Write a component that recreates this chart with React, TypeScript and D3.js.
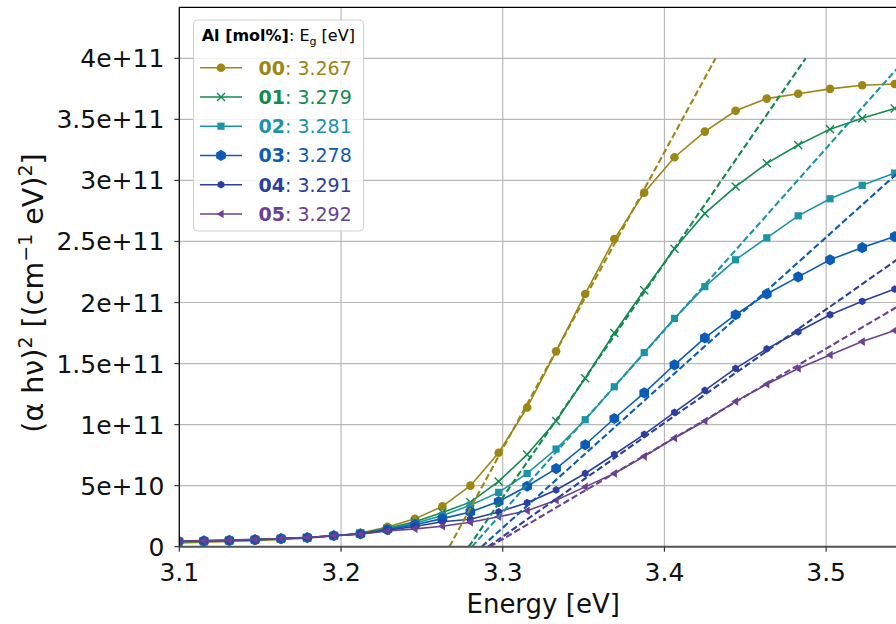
import React from "react";
import * as d3 from "d3";

// Photon energy of each sample point [eV]
const energy = [
  3.0996, 3.1152, 3.1309, 3.1468, 3.1629, 3.1791, 3.1955, 3.212, 3.2287, 3.2457,
  3.2627, 3.28, 3.2975, 3.3151, 3.333, 3.351, 3.369, 3.3875, 3.4062, 3.425,
  3.444, 3.4633, 3.4827, 3.5024, 3.5223, 3.5424,
];

// (alpha h nu)^2 in units of 1e10 (cm^-1 eV)^2
const UNIT = 1e10;
const s00 = [0.3, 0.36, 0.42, 0.5, 0.6, 0.7, 0.88, 1.12, 1.62, 2.28, 3.3, 5.0, 7.7, 11.4, 16.0, 20.7, 25.2, 29.0, 31.9, 34.0, 35.7, 36.7, 37.1, 37.5, 37.8, 37.9];
const s01 = [0.4, 0.45, 0.5, 0.57, 0.65, 0.74, 0.9, 1.08, 1.5, 2.05, 2.8, 3.65, 5.35, 7.55, 10.3, 13.8, 17.5, 21.0, 24.4, 27.3, 29.5, 31.4, 32.9, 34.2, 35.1, 35.9];
const s02 = [0.42, 0.46, 0.51, 0.57, 0.65, 0.74, 0.9, 1.06, 1.45, 1.92, 2.55, 3.4, 4.45, 6.0, 8.0, 10.4, 13.1, 15.9, 18.7, 21.3, 23.5, 25.3, 27.1, 28.5, 29.6, 30.6];
const s03 = [0.45, 0.48, 0.52, 0.58, 0.66, 0.75, 0.9, 1.05, 1.4, 1.8, 2.3, 2.85, 3.7, 4.95, 6.4, 8.35, 10.5, 12.6, 14.9, 17.1, 19.0, 20.7, 22.1, 23.5, 24.5, 25.4];
const s04 = [0.45, 0.49, 0.53, 0.59, 0.66, 0.75, 0.9, 1.04, 1.35, 1.65, 2.05, 2.25, 2.85, 3.6, 4.65, 6.0, 7.55, 9.2, 11.0, 12.8, 14.6, 16.2, 17.6, 19.0, 20.1, 21.1];
const s05 = [0.46, 0.5, 0.54, 0.6, 0.67, 0.76, 0.9, 1.02, 1.28, 1.46, 1.68, 2.0, 2.45, 2.95, 3.8, 4.9, 6.0, 7.4, 8.9, 10.3, 11.9, 13.3, 14.6, 15.7, 16.8, 17.7];

const seriesIds = ["00", "01", "02", "03", "04", "05"];
const bandGaps = ["3.267", "3.279", "3.281", "3.278", "3.291", "3.292"];
// Tauc tangent lines: x-intercept [eV] and slope [1e10 per eV]
const fitIntercept = [3.267, 3.279, 3.281, 3.287, 3.291, 3.292];
const fitSlope = [243, 192, 149, 119, 93, 78];
const fitTop = 40; // tangents drawn up to 4e11

const xTicks = [3.1, 3.2, 3.3, 3.4, 3.5];
const xTickLabels = ["3.1", "3.2", "3.3", "3.4", "3.5"];
const yTicks = [0, 5e10, 1e11, 1.5e11, 2e11, 2.5e11, 3e11, 3.5e11, 4e11];
const yTickLabels = ["0", "5e+10", "1e+11", "1.5e+11", "2e+11", "2.5e+11", "3e+11", "3.5e+11", "4e+11"];

const seriesValues = [s00, s01, s02, s03, s04, s05];
const colors = ["#9c8614", "#138a4e", "#1a94a6", "#0b5cb4", "#2a3f9f", "#6a4291"];
const markers = ["circle", "x", "square", "hex", "hexs", "tri"];

const W = 896;
const H = 624;
const L = 179.3;
const R = 907;
const T = 7.3;
const B = 546.7;
const FONT = "DejaVu Sans, sans-serif";

function Marker({ kind, x, y, c }: { kind: string; x: number; y: number; c: string }) {
  if (kind === "circle") return <circle cx={x} cy={y} r={4.3} fill={c} />;
  if (kind === "x") {
    const s = 4;
    return (
      <path d={`M${x - s},${y - s}L${x + s},${y + s}M${x - s},${y + s}L${x + s},${y - s}`} stroke={c} strokeWidth={1.4} fill="none" />
    );
  }
  if (kind === "square") return <rect x={x - 3.6} y={y - 3.6} width={7.2} height={7.2} fill={c} />;
  if (kind === "hex" || kind === "hexs") {
    const r = kind === "hex" ? 5.6 : 3.9;
    const pts = d3.range(6).map((i) => {
      const a = (Math.PI / 3) * i + Math.PI / 6;
      return [x + r * Math.cos(a), y + r * Math.sin(a)];
    });
    return <path d={"M" + pts.map((p) => p.join(",")).join("L") + "Z"} fill={c} />;
  }
  // left-pointing triangle
  const r = 4.3;
  return <path d={`M${x - r},${y}L${x + r * 0.6},${y - r}L${x + r * 0.6},${y + r}Z`} fill={c} />;
}

export default function App() {
  const x = d3.scaleLinear().domain([3.1, 3.55]).range([L, R]);
  const y = d3.scaleLinear().domain([0, 4.418e11]).range([B, T]);
  const line = d3
    .line<[number, number]>()
    .x((d) => x(d[0]))
    .y((d) => y(d[1] * UNIT));

  return (
    <svg width={W} height={H} style={{ position: "absolute", left: 0, top: 0, background: "#fff" }} fontFamily={FONT}>
      <defs>
        <clipPath id="plot">
          <rect x={L} y={T} width={R - L} height={B - T} />
        </clipPath>
      </defs>
      <rect x={0} y={0} width={W} height={H} fill="#fff" />
      {/* grid */}
      {xTicks.map((t) => (
        <line key={"gx" + t} x1={x(t)} x2={x(t)} y1={T} y2={B} stroke="#b8b8b8" strokeWidth={1.2} />
      ))}
      {yTicks.map((t) => (
        <line key={"gy" + t} x1={L} x2={R} y1={y(t)} y2={y(t)} stroke="#b8b8b8" strokeWidth={1.2} />
      ))}
      <g clipPath="url(#plot)">
        {seriesValues.map((vals, i) => {
          const pts = energy.map((e, j) => [e, vals[j]] as [number, number]);
          return (
            <g key={"s" + i}>
              <path d={line(pts) || ""} fill="none" stroke={colors[i]} strokeWidth={1.6} />
              {pts.map((p, j) => (
                <Marker key={j} kind={markers[i]} x={x(p[0])} y={y(p[1] * UNIT)} c={colors[i]} />
              ))}
            </g>
          );
        })}
        {seriesValues.map((_, i) => {
          const seg: [number, number][] = [
            [fitIntercept[i], 0],
            [fitIntercept[i] + fitTop / fitSlope[i], fitTop],
          ];
          return (
            <path key={"f" + i} d={line(seg) || ""} fill="none" stroke={colors[i]} strokeWidth={2.1} strokeDasharray="6.5,3" />
          );
        })}
      </g>
      {/* spines */}
      <line x1={L} x2={R} y1={T} y2={T} stroke="#000" strokeWidth={1.2} />
      <line x1={L} x2={L} y1={T} y2={B} stroke="#000" strokeWidth={1.2} />
      <line x1={L} x2={R} y1={B} y2={B} stroke="#555" strokeWidth={2} />
      {/* ticks */}
      {xTicks.map((t, i) => (
        <g key={"xt" + t}>
          <line x1={x(t)} x2={x(t)} y1={B} y2={B + 5} stroke="#333" strokeWidth={1.2} />
          <text x={x(t)} y={B + 34} textAnchor="middle" fontSize={25} fill="#111">
            {xTickLabels[i]}
          </text>
        </g>
      ))}
      {yTicks.map((t, i) => (
        <g key={"yt" + t}>
          <line x1={L - 5} x2={L} y1={y(t)} y2={y(t)} stroke="#333" strokeWidth={1.2} />
          <text x={L - 15} y={y(t) + 9} textAnchor="end" fontSize={25} fill="#111">
            {yTickLabels[i]}
          </text>
        </g>
      ))}
      <text x={(L + R) / 2} y={613} textAnchor="middle" fontSize={26} fill="#111">
        Energy [eV]
      </text>
      <text transform={`translate(43,${(T + B) / 2 + 16}) rotate(-90)`} textAnchor="middle" fontSize={28.5} fill="#111">
        (α hν)<tspan dy={-11} fontSize={19}>2</tspan>
        <tspan dy={11}> [(cm</tspan>
        <tspan dy={-11} fontSize={19}>−1</tspan>
        <tspan dy={11}> eV)</tspan>
        <tspan dy={-11} fontSize={19}>2</tspan>
        <tspan dy={11}>]</tspan>
      </text>
      {/* legend */}
      <rect x={193.5} y={20} width={170} height={211} rx={4} fill="#fff" fillOpacity={0.82} stroke="#d0d0d0" strokeWidth={1} />
      <text x={201.7} y={41} fontSize={16} fill="#000">
        <tspan fontWeight="bold">Al [mol%]</tspan>
        <tspan>: E</tspan>
        <tspan dy={4} fontSize={11}>g</tspan>
        <tspan dy={-4}> [eV]</tspan>
      </text>
      {seriesIds.map((id, i) => {
        const cy = 67.7 + i * 29.25;
        return (
          <g key={"lg" + id}>
            <line x1={200} x2={242} y1={cy} y2={cy} stroke={colors[i]} strokeWidth={1.6} />
            <Marker kind={markers[i]} x={221} y={cy} c={colors[i]} />
            <text x={258.5} y={cy + 7} fontSize={19} fill={colors[i]}>
              <tspan fontWeight="bold">{id}</tspan>
              <tspan>: {bandGaps[i]}</tspan>
            </text>
          </g>
        );
      })}
    </svg>
  );
}
